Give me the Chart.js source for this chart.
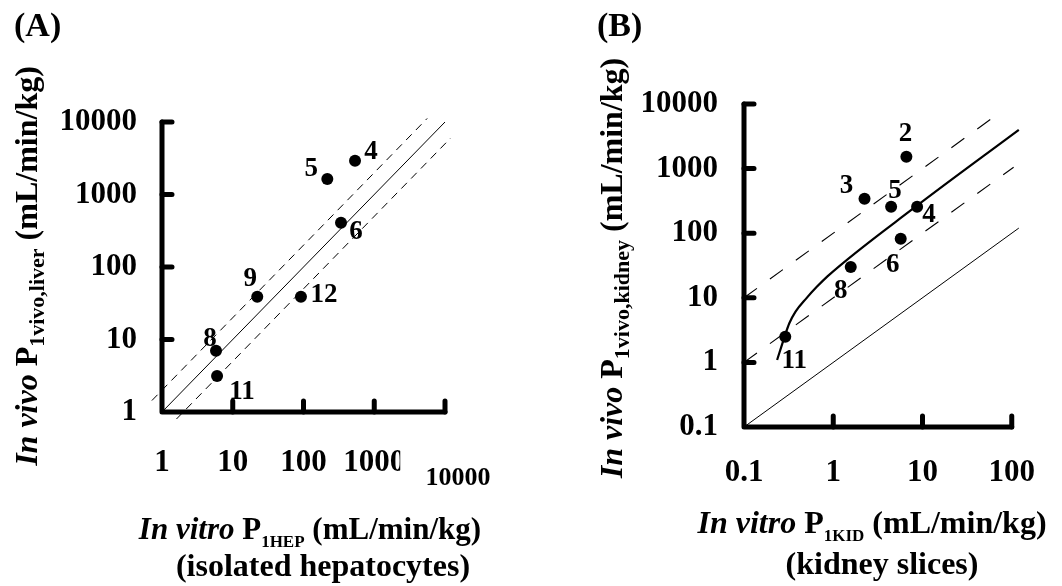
<!DOCTYPE html>
<html>
<head>
<meta charset="utf-8">
<script src="https://cdn.jsdelivr.net/npm/chart.js@4.4.1/dist/chart.umd.min.js"></script>
<style>
	body { margin: 0; background: #fff; }
	#page { position: relative; width: 1062px; height: 586px; overflow: hidden; color: #000;
		font-family: 'Liberation Serif', 'Times New Roman', serif; font-weight: bold; }
	canvas { position: absolute; top: 0; }
	#chartA { left: 0; }
	#chartB { left: 531px; }
	.txt { position: absolute; white-space: nowrap; line-height: 1; font-size: 32px;
		transform: translate(-50%, -50%); }
	.ytitle { transform: translate(-50%, -50%) rotate(-90deg); }
	.panel { font-size: 34px; transform: none; }
	.ysub { font-size: 22px; vertical-align: -7px; line-height: 0; }
	.xsub { font-size: 17px; vertical-align: -8px; line-height: 0; }
</style>
</head>
<body>
<div id="page">
	<canvas id="chartA" width="531" height="586"></canvas>
	<canvas id="chartB" width="531" height="586"></canvas>

	<div class="txt panel" style="left: 14px; top: 8px;">(A)</div>
	<div class="txt panel" style="left: 597px; top: 8px;">(B)</div>

	<div class="txt ytitle" style="left: 26px; top: 266px;"><i>In vivo</i> P<span class="ysub">1vivo,liver</span> (mL/min/kg)</div>
	<div class="txt ytitle" style="left: 611px; top: 268px;"><i>In vivo</i> P<span class="ysub">1vivo,kidney</span> (mL/min/kg)</div>

	<div class="txt" style="left: 310px; top: 528px; font-size: 31px;"><i>In vitro</i> P<span class="xsub">1HEP</span> (mL/min/kg)</div>
	<div class="txt" style="left: 323px; top: 565px;">(isolated hepatocytes)</div>
	<div class="txt" style="left: 872px; top: 522px;"><i>In vitro</i> P<span class="xsub">1KID</span> (mL/min/kg)</div>
	<div class="txt" style="left: 882px; top: 563px;">(kidney slices)</div>
</div>
<script>
	// (A) liver: in vitro hepatocytes vs in vivo
	const hepIds = ['4', '5', '6', '9', '12', '8', '11'];
	const hepInVitro = [535, 217, 339, 22.2, 92, 5.8, 6.0];
	const liverInVivo = [2925, 1637, 409, 39, 39, 7.0, 3.14];

	const unityAX = [1, 10000];
	const unityAY = [1, 10000];
	const upperAX = [0.72, 5600];
	const upperAY = [1.44, 11200];
	const lowerAX = [1.6, 12000];
	const lowerAY = [0.8, 6000];

	const ticksAX = [1, 10, 100, 1000, 10000];
	const ticksAY = [1, 10, 100, 1000, 10000];

	// (B) kidney: in vitro slices vs in vivo
	const kidIds = ['2', '3', '5', '4', '6', '8', '11'];
	const kidInVitro = [6.6, 2.24, 4.45, 8.7, 5.7, 1.57, 0.29];
	const kidneyInVivo = [1530, 342, 257, 257, 82, 30, 2.5];

	const fitBX = [0.235, 0.284, 0.322, 0.378, 0.499, 0.658, 0.867, 8.3, 120];
	const fitBY = [1.09, 2.47, 4.03, 6.1, 9.8, 14.9, 21.7, 255, 3980];
	const unityBX = [0.1, 120];
	const unityBY = [0.1, 120];
	const upperBX = [0.1, 75];
	const upperBY = [10, 7500];
	const lowerBX = [0.1, 105];
	const lowerBY = [1, 1050];

	const ticksBX = [0.1, 1, 10, 100];
	const ticksBY = [0.1, 1, 10, 100, 1000, 10000];

	// label nudges (px) relative to each point
	const nudgeA = [[16, -9], [-16, -10], [15, 9], [-7, -18], [23, -2], [-6, -12], [25, 16]];
	const nudgeB = [[-1, -23], [-18, -13], [4, -16], [12, 8], [-8, 26], [-10, 24], [9, 24]];

	const serif = "'Liberation Serif', 'Times New Roman', serif";

	let fig = {};

	fig.pairs = function(xs, ys) {
		return xs.map(function(x, i) {
			return { x: x, y: ys[i] };
		});
	};

	fig.line = function(xs, ys, width, dash, smooth) {
		return {
			data: fig.pairs(xs, ys),
			showLine: true,
			borderColor: '#000',
			borderWidth: width,
			borderDash: dash,
			cubicInterpolationMode: smooth ? 'monotone' : 'default',
			pointRadius: 0,
			pointHoverRadius: 0,
			clip: false
		};
	};

	fig.points = function(xs, ys, ids, nudge) {
		return {
			data: fig.pairs(xs, ys),
			showLine: false,
			pointRadius: 6,
			pointBorderWidth: 0,
			pointBackgroundColor: '#000',
			clip: false,
			ids: ids,
			nudge: nudge
		};
	};

	fig.axis = function(ticks, pad, size, fit, font, label) {
		return {
			type: 'logarithmic',
			min: ticks[0],
			max: ticks[ticks.length - 1],
			grid: { display: false, drawTicks: false },
			border: { display: false },
			afterBuildTicks: function(scale) {
				scale.ticks = ticks.map(function(v) { return { value: v }; });
			},
			afterFit: fit,
			ticks: {
				color: '#000',
				padding: pad,
				autoSkip: false,
				maxRotation: 0,
				font: font || { family: serif, weight: 'bold', size: size },
				callback: label || function(v) { return String(v); }
			}
		};
	};

	// inward ticks and the axis frame, placed by the chart's scales
	fig.frame = {
		id: 'frame',
		afterDatasetsDraw: function(chart) {
			let ctx = chart.ctx,
				xs = chart.scales.x,
				ys = chart.scales.y,
				a = chart.chartArea;

			ctx.save();
			ctx.strokeStyle = '#000';
			ctx.lineWidth = 5;
			ctx.lineCap = 'round';
			ctx.lineJoin = 'round';
			ctx.beginPath();
			ctx.moveTo(a.left, a.top);
			ctx.lineTo(a.left, a.bottom);
			ctx.lineTo(a.right, a.bottom);
			ctx.stroke();

			ctx.beginPath();
			xs.ticks.slice(1).forEach(function(t) {
				let px = xs.getPixelForValue(t.value);
				ctx.moveTo(px, a.bottom);
				ctx.lineTo(px, a.bottom - 11);
			});
			ys.ticks.slice(1).forEach(function(t) {
				let py = ys.getPixelForValue(t.value);
				ctx.moveTo(a.left, py);
				ctx.lineTo(a.left + 10, py);
			});
			ctx.stroke();
			ctx.restore();
		}
	};

	fig.labels = {
		id: 'labels',
		afterDatasetsDraw: function(chart) {
			let ctx = chart.ctx;

			ctx.save();
			ctx.fillStyle = '#000';
			ctx.font = 'bold 27px ' + serif;
			ctx.textAlign = 'center';
			ctx.textBaseline = 'middle';
			chart.data.datasets.forEach(function(ds, i) {
				if (!ds.ids) {
					return;
				}
				chart.getDatasetMeta(i).data.forEach(function(pt, j) {
					ctx.fillText(ds.ids[j], pt.x + ds.nudge[j][0], pt.y + ds.nudge[j][1]);
				});
			});
			ctx.restore();
		}
	};

	// the source figure cuts the last digit of "1000" on the x axis of (A)
	fig.cut = {
		id: 'cut',
		afterDraw: function(chart) {
			if (chart.canvas.id !== 'chartA') {
				return;
			}
			let ctx = chart.ctx,
				px = chart.scales.x.getPixelForValue(1000);

			ctx.save();
			ctx.fillStyle = '#fff';
			ctx.fillRect(px + 26, chart.chartArea.bottom + 30, 10, 38);
			ctx.restore();
		}
	};

	fig.make = function(id, datasets, scales, padding) {
		return new Chart(document.getElementById(id), {
			type: 'scatter',
			data: { datasets: datasets },
			plugins: [fig.frame, fig.labels, fig.cut],
			options: {
				responsive: false,
				animation: false,
				events: [],
				layout: { padding: padding },
				plugins: {
					legend: { display: false },
					tooltip: { enabled: false }
				},
				scales: scales
			}
		});
	};

	fig.make('chartA', [
		fig.line(unityAX, unityAY, 1, [], false),
		fig.line(upperAX, upperAY, 1, [8, 6], false),
		fig.line(lowerAX, lowerAY, 1, [8, 6], false),
		fig.points(hepInVitro, liverInVivo, hepIds, nudgeA)
	], {
		x: fig.axis(ticksAX, 32, 31, function(s) { s.height = 90; }, function(c) {
			return c.index === 4
				? { family: serif, weight: 'bold', size: 26, lineHeight: 2.6 }
				: { family: serif, weight: 'bold', size: 31 };
		}, function(v, i) {
			// last label sits off to the right in the source
			return i === 4 ? '\u2002\u2002' + v : String(v);
		}),
		y: fig.axis(ticksAY, 25, 31, function(s) { s.width = 162; })
	}, { left: 0, top: 122, right: 86, bottom: 84 });

	fig.make('chartB', [
		fig.line(unityBX, unityBY, 1, [], false),
		fig.line(upperBX, upperBY, 1.1, [16, 16], false),
		fig.line(lowerBX, lowerBY, 1.1, [16, 16], false),
		fig.line(fitBX, fitBY, 2.2, [], true),
		fig.points(kidInVitro, kidneyInVivo, kidIds, nudgeB)
	], {
		x: fig.axis(ticksBX, 27, 31, function(s) { s.height = 80; }),
		y: fig.axis(ticksBY, 26, 31, function(s) { s.width = 213; })
	}, { left: 0, top: 104, right: 27, bottom: 79 });
</script>
</body>
</html>
